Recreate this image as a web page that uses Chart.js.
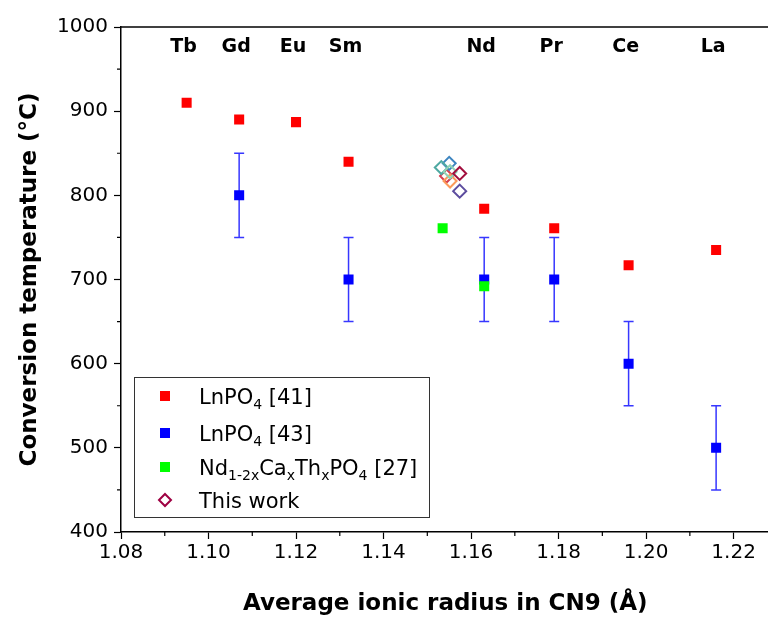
<!DOCTYPE html>
<html>
<head>
<meta charset="utf-8">
<script src="https://cdn.jsdelivr.net/npm/chart.js@4.4.0/dist/chart.umd.min.js"></script>
<style>
  html, body { margin: 0; background: #fff; overflow: hidden; }
</style>
</head>
<body>
<!-- slightly wider than the window: the plot frame is cut at the right edge, as in the original -->
<canvas id="chart" width="778" height="623"></canvas>
<script>
// Lanthanide labels and their ionic radii (CN9)
const elements = ['Tb', 'Gd', 'Eu', 'Sm', 'Nd', 'Pr', 'Ce', 'La'];
const radii = [1.095, 1.107, 1.120, 1.132, 1.163, 1.179, 1.196, 1.216];

// LnPO4 [41]
const ref41Temp = [910, 890, 887, 840, 784, 761, 717, 735];

// LnPO4 [43] with error bars
const ref43Radii = [1.107, 1.132, 1.163, 1.179, 1.196, 1.216];
const ref43Temp = [800, 700, 700, 700, 600, 500];
const ref43Err = [50, 50, 50, 50, 50, 50];

// Nd1-2xCaxThxPO4 [27]
const ref27Radii = [1.1535, 1.163];
const ref27Temp = [761, 692];

// This work
const thisWorkRadii = [1.1544, 1.1550, 1.1532, 1.1552, 1.1552, 1.1574, 1.1574];
const thisWorkTemp = [823, 838, 833, 817, 828, 826, 805];
const thisWorkColors = ['#d53e4f', '#3d85c0', '#4fa9a2', '#fc9a5a', '#8fd3b5', '#a3103f', '#5d4d9f'];

// Axis ticks
const xTicks = [1.08, 1.10, 1.12, 1.14, 1.16, 1.18, 1.20, 1.22];
const xMinor = [1.09, 1.11, 1.13, 1.15, 1.17, 1.19, 1.21];
const yMinor = [450, 550, 650, 750, 850, 950];

const tickFont = { family: '"DejaVu Sans"', size: 20 };
const titleFont = { family: '"DejaVu Sans"', size: 23, weight: 'bold' };

function toPoints(xs, ys) {
    return xs.map((x, i) => ({ x: x, y: ys[i] }));
}

// Error bars for the [43] series
const errorBars = {
    id: 'errorBars',
    beforeDatasetsDraw(chart) {
        const { ctx, scales: { x, y } } = chart;
        ctx.save();
        ctx.strokeStyle = 'rgba(20,20,255,0.85)';
        ctx.lineWidth = 1.5;
        ref43Radii.forEach((r, i) => {
            const px = x.getPixelForValue(r);
            const top = y.getPixelForValue(ref43Temp[i] + ref43Err[i]);
            const bot = y.getPixelForValue(ref43Temp[i] - ref43Err[i]);
            ctx.beginPath();
            ctx.moveTo(px, top); ctx.lineTo(px, bot);
            ctx.moveTo(px - 5, top); ctx.lineTo(px + 5, top);
            ctx.moveTo(px - 5, bot); ctx.lineTo(px + 5, bot);
            ctx.stroke();
        });
        ctx.restore();
    }
};

// Top frame line, minor ticks, element labels, legend
const decorations = {
    id: 'decorations',
    afterDraw(chart) {
        const { ctx, chartArea: area, scales: { x, y } } = chart;
        ctx.save();
        ctx.strokeStyle = '#000';
        ctx.lineWidth = 1.5;
        ctx.beginPath();
        ctx.moveTo(area.left, area.top);
        ctx.lineTo(area.right, area.top);
        ctx.stroke();

        // minor ticks
        ctx.lineWidth = 1.2;
        ctx.beginPath();
        xMinor.forEach(v => {
            const px = x.getPixelForValue(v);
            ctx.moveTo(px, area.bottom); ctx.lineTo(px, area.bottom + 4);
        });
        yMinor.forEach(v => {
            const py = y.getPixelForValue(v);
            ctx.moveTo(area.left, py); ctx.lineTo(area.left - 4, py);
        });
        ctx.stroke();

        // element labels along the top
        ctx.fillStyle = '#000';
        ctx.font = 'bold 19px "DejaVu Sans"';
        ctx.textAlign = 'center';
        ctx.textBaseline = 'middle';
        elements.forEach((el, i) => {
            ctx.fillText(el, x.getPixelForValue(radii[i]) - 3, area.top + 20);
        });

        // legend
        const lx = 134, ly = 377, lw = 295, lh = 140;
        ctx.fillStyle = '#fff';
        ctx.fillRect(lx, ly, lw, lh);
        ctx.strokeStyle = '#333';
        ctx.lineWidth = 1;
        ctx.strokeRect(lx + 0.5, ly + 0.5, lw, lh);

        const rows = [
            { color: '#ff0000', shape: 'rect', parts: [['LnPO', 0], ['4', 1], [' [41]', 0]] },
            { color: '#0000ff', shape: 'rect', parts: [['LnPO', 0], ['4', 1], [' [43]', 0]] },
            { color: '#00ff00', shape: 'rect', parts: [['Nd', 0], ['1-2x', 1], ['Ca', 0], ['x', 1], ['Th', 0], ['x', 1], ['PO', 0], ['4', 1], [' [27]', 0]] },
            { color: '#9e0142', shape: 'diamond', parts: [['This work', 0]] }
        ];
        const rowY = [396, 433, 467, 500];
        ctx.textAlign = 'left';
        ctx.textBaseline = 'alphabetic';
        rows.forEach((row, i) => {
            const cy = rowY[i];
            if (row.shape === 'rect') {
                ctx.fillStyle = row.color;
                ctx.fillRect(lx + 26, cy - 5, 10, 10);
            } else {
                ctx.strokeStyle = row.color;
                ctx.lineWidth = 2;
                ctx.beginPath();
                ctx.moveTo(lx + 31, cy - 6);
                ctx.lineTo(lx + 37, cy);
                ctx.lineTo(lx + 31, cy + 6);
                ctx.lineTo(lx + 25, cy);
                ctx.closePath();
                ctx.stroke();
            }
            ctx.fillStyle = '#000';
            let tx = lx + 65;
            row.parts.forEach(([t, sub]) => {
                const fs = sub ? 14 : 21;
                ctx.font = fs + 'px "DejaVu Sans"';
                ctx.fillText(t, tx, sub ? cy + 13 : cy + 8);
                tx += ctx.measureText(t).width;
            });
        });
        ctx.restore();
    }
};

const ctx = document.getElementById('chart').getContext('2d');
const myChart = new Chart(ctx, {
    type: 'scatter',
    data: {
        datasets: [
            {
                label: 'This work',
                data: toPoints(thisWorkRadii, thisWorkTemp),
                pointStyle: 'rectRot',
                pointRadius: 6.5,
                pointBorderWidth: 2,
                pointBorderColor: thisWorkColors,
                pointBackgroundColor: 'rgba(0,0,0,0)',
                order: 0
            },
            {
                label: 'Nd1-2xCaxThxPO4 [27]',
                data: toPoints(ref27Radii, ref27Temp),
                pointStyle: 'rect',
                pointRadius: 7.1,
                pointBorderWidth: 0,
                pointBackgroundColor: '#00ff00',
                order: 1
            },
            {
                label: 'LnPO4 [41]',
                data: toPoints(radii, ref41Temp),
                pointStyle: 'rect',
                pointRadius: 7.1,
                pointBorderWidth: 0,
                pointBackgroundColor: '#ff0000',
                order: 2
            },
            {
                label: 'LnPO4 [43]',
                data: toPoints(ref43Radii, ref43Temp),
                pointStyle: 'rect',
                pointRadius: 7.1,
                pointBorderWidth: 0,
                pointBackgroundColor: '#0000ff',
                order: 3
            }
        ]
    },
    options: {
        responsive: false,
        animation: false,
        layout: { padding: { top: 27, right: 0, left: 0, bottom: 0 } },
        plugins: {
            legend: { display: false },
            tooltip: { enabled: false }
        },
        scales: {
            x: {
                type: 'linear',
                min: 1.08,
                max: 1.2282,
                afterBuildTicks: scale => { scale.ticks = xTicks.map(v => ({ value: v })); },
                afterFit: scale => {
                    scale.height = 91;
                    scale.paddingLeft = 0;
                    scale.paddingRight = 0;
                },
                ticks: {
                    callback: v => v.toFixed(2),
                    font: tickFont,
                    color: '#000',
                    padding: 2,
                    maxRotation: 0,
                    autoSkip: false
                },
                grid: { drawOnChartArea: false, drawTicks: true, tickLength: 7, color: '#000', tickWidth: 1.2 },
                border: { color: '#000', width: 1.5 },
                title: {
                    display: true,
                    text: 'Average ionic radius in CN9 (Å)',
                    font: titleFont,
                    color: '#000',
                    padding: { top: 0, bottom: 5 }
                }
            },
            y: {
                min: 400,
                max: 1000,
                afterFit: scale => {
                    scale.width = 121;
                    scale.paddingTop = 0;
                    scale.paddingBottom = 0;
                },
                ticks: {
                    stepSize: 100,
                    callback: v => String(v),
                    font: tickFont,
                    color: '#000',
                    padding: 6
                },
                grid: { drawOnChartArea: false, drawTicks: true, tickLength: 7, color: '#000', tickWidth: 1.2 },
                border: { color: '#000', width: 1.5 },
                title: {
                    display: true,
                    text: 'Conversion temperature (°C)',
                    font: titleFont,
                    color: '#000',
                    padding: { top: 16, bottom: 0 }
                }
            }
        }
    },
    plugins: [errorBars, decorations]
});
</script>
</body>
</html>
